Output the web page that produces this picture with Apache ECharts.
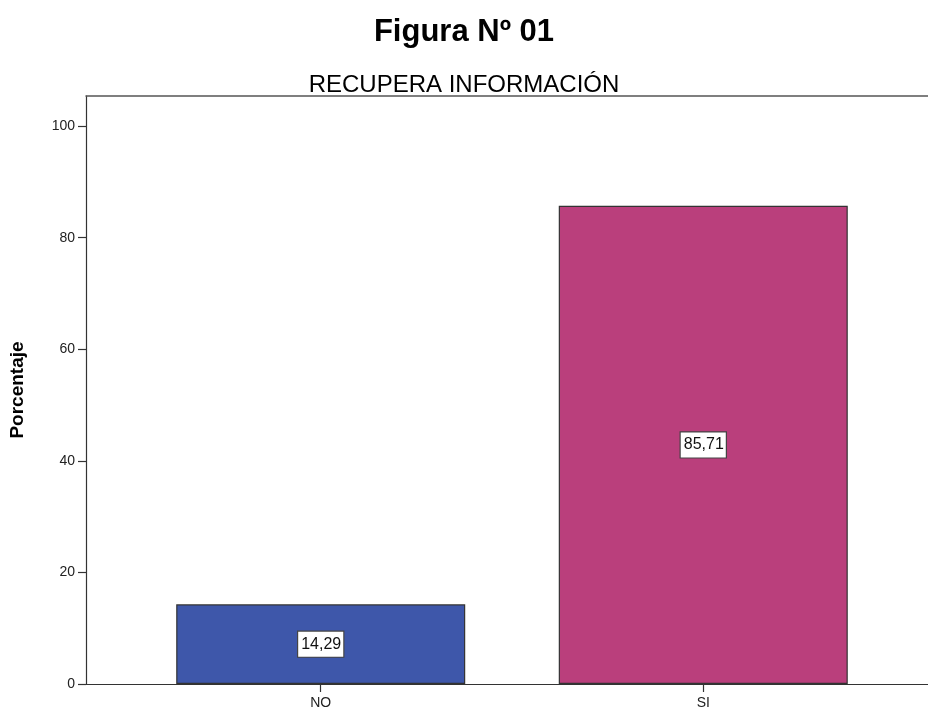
<!DOCTYPE html>
<html>
<head>
<meta charset="utf-8">
<script src="https://cdn.jsdelivr.net/npm/echarts@6/dist/echarts.min.js"></script>
<style>html,body{margin:0;padding:0;background:#fff}#c{width:928px;height:711px}</style>
</head>
<body>
<div id="c"></div>
<script>
const categories = ['NO', 'SI'];
const values = [14.29, 85.71];
const barColors = ['#3E57AA', '#BA3F7C'];
const yTicks = [0, 20, 40, 60, 80, 100];

const chart = echarts.init(document.getElementById('c'), null, {renderer: 'canvas'});
const font = 'Arial, "Liberation Sans", sans-serif';
const catIdx = categories.map((c, i) => i);
const xMin = -0.6136, xMax = 1.5875;
chart.setOption({
  animation: false,
  backgroundColor: '#ffffff',
  title: [
    {text: 'Figura Nº 01', left: 'center', top: 12,
     textStyle: {fontFamily: font, fontSize: 31, fontWeight: 'bold', color: '#000'}},
    {text: 'RECUPERA INFORMACIÓN', left: 'center', top: 68,
     textStyle: {fontFamily: font, fontSize: 24, fontWeight: 'normal', color: '#000'}}
  ],
  grid: {left: 85, right: 0, top: 96, bottom: 27, show: false},
  xAxis: [{
    type: 'value', min: xMin, max: xMax,
    splitLine: {show: false},
    axisLine: {show: true, onZero: false, lineStyle: {color: '#333', width: 1.2}},
    axisTick: {show: true, length: 8, customValues: catIdx, lineStyle: {color: '#333', width: 1.2}},
    axisLabel: {
      customValues: catIdx,
      formatter: v => categories[Math.round(v)] || '',
      fontFamily: font, fontSize: 14, color: '#222', margin: 12
    }
  }, {
    type: 'value', position: 'top', min: xMin, max: xMax,
    splitLine: {show: false},
    axisLine: {show: true, onZero: false, lineStyle: {color: '#555', width: 1.5}},
    axisTick: {show: false},
    axisLabel: {show: false}
  }],
  yAxis: {
    type: 'value', min: 0, max: 105.4,
    name: 'Porcentaje', nameLocation: 'middle', nameGap: 59, nameRotate: 90,
    nameTextStyle: {fontFamily: font, fontSize: 19, fontWeight: 'bold', color: '#000'},
    splitLine: {show: false},
    axisLine: {show: true, onZero: false, lineStyle: {color: '#333', width: 1.2}},
    axisTick: {show: true, length: 8, customValues: yTicks, lineStyle: {color: '#333', width: 1.2}},
    axisLabel: {customValues: yTicks, fontFamily: font, fontSize: 14, color: '#222', margin: 11}
  },
  series: [{
    type: 'bar',
    xAxisIndex: 0,
    barWidth: 289,
    data: values.map((v, i) => ({value: [i, v], itemStyle: {color: barColors[i]}})),
    itemStyle: {borderColor: '#333', borderWidth: 1.2},
    label: {
      show: true, position: 'inside',
      formatter: p => p.value[1].toFixed(2).replace('.', ','),
      fontFamily: font, fontSize: 16, color: '#111',
      backgroundColor: '#fff', borderColor: '#444', borderWidth: 1.2, padding: [5, 2, 4, 3]
    }
  }]
});
</script>
</body>
</html>
